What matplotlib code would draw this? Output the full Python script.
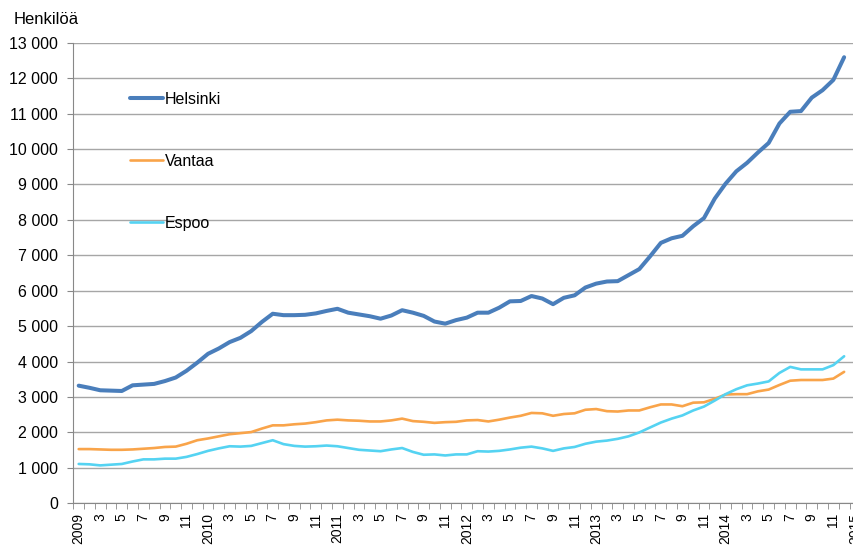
import numpy as np
import matplotlib
matplotlib.use("Agg")
import matplotlib.pyplot as plt
from matplotlib.ticker import FuncFormatter
from matplotlib.patches import Rectangle

plt.rcParams['font.family'] = ['Liberation Sans', 'DejaVu Sans']

# monthly data 1/2009 - 12/2014
helsinki = [3320, 3260, 3190, 3180, 3170, 3330, 3350, 3370, 3450, 3550, 3740, 3970,
            4220, 4370, 4550, 4670, 4860, 5120, 5350, 5310, 5310, 5320, 5360, 5430,
            5490, 5380, 5330, 5280, 5210, 5300, 5450, 5380, 5290, 5130, 5070, 5170,
            5240, 5380, 5380, 5520, 5700, 5710, 5850, 5780, 5620, 5800, 5870, 6090,
            6200, 6260, 6270, 6440, 6610, 6970, 7350, 7480, 7550, 7820, 8050, 8600,
            9020, 9370, 9610, 9900, 10170, 10720, 11050, 11070, 11450, 11660, 11950, 12590]
vantaa = [1530, 1530, 1520, 1510, 1510, 1520, 1540, 1560, 1590, 1600, 1680, 1780,
          1830, 1890, 1950, 1980, 2010, 2110, 2200, 2200, 2230, 2250, 2290, 2340,
          2360, 2340, 2330, 2310, 2310, 2340, 2390, 2320, 2300, 2270, 2290, 2300,
          2340, 2350, 2310, 2360, 2420, 2470, 2550, 2540, 2470, 2520, 2540, 2640,
          2660, 2600, 2590, 2620, 2620, 2710, 2790, 2790, 2740, 2840, 2850, 2950,
          3070, 3080, 3080, 3160, 3210, 3340, 3460, 3480, 3480, 3480, 3520, 3710]
espoo = [1110, 1100, 1070, 1090, 1110, 1180, 1240, 1240, 1260, 1260, 1310, 1390,
         1480, 1550, 1610, 1600, 1620, 1700, 1780, 1670, 1620, 1600, 1610, 1630,
         1610, 1560, 1510, 1490, 1470, 1520, 1560, 1450, 1370, 1380, 1350, 1380,
         1380, 1470, 1460, 1480, 1520, 1570, 1600, 1550, 1480, 1550, 1590, 1680,
         1740, 1770, 1820, 1890, 2000, 2140, 2280, 2390, 2480, 2620, 2730, 2900,
         3080, 3220, 3330, 3380, 3440, 3680, 3850, 3780, 3780, 3780, 3900, 4150]
years = [2009, 2010, 2011, 2012, 2013, 2014]

tick_labels = []
for y in years:
    tick_labels += [str(y), '3', '5', '7', '9', '11']
tick_labels.append('2015')

W, H = 854, 545
fs = 11.5
fig = plt.figure(figsize=(W / 100, H / 100), dpi=100)
ax = fig.add_axes([73.3 / W, 41.7 / H, 787 / W, 460.6 / H])

x = np.arange(len(helsinki))
ax.plot(x, helsinki, color='#4A7EBB', lw=2.9, label='Helsinki', solid_capstyle='round', zorder=3)
ax.plot(x, vantaa, color='#F9A44A', lw=1.9, label='Vantaa', solid_capstyle='round', zorder=3)
ax.plot(x, espoo, color='#55D3F2', lw=1.9, label='Espoo', solid_capstyle='round', zorder=3)

ax.set_xlim(-0.5, 72.5)
ax.set_ylim(0, 13000)
ax.set_yticks(np.arange(0, 13001, 1000))
ax.yaxis.set_major_formatter(FuncFormatter(lambda v, p: f'{int(v):,}'.replace(',', ' ')))
ax.yaxis.grid(True, color='#A6A6A6', lw=1)
ax.set_axisbelow(True)

ax.set_xticks(np.arange(0, 73, 2))
ax.set_xticklabels(tick_labels, rotation=90, va='top', ha='center')
ax.set_xticks(np.arange(-0.5, 73, 1), minor=True)
ax.tick_params(axis='x', which='major', length=0, pad=7, labelsize=10)
ax.tick_params(axis='x', which='minor', length=4, color='#888888')
ax.tick_params(axis='y', length=4, color='#888888', pad=7, labelsize=fs)

for s in ['top', 'right']:
    ax.spines[s].set_visible(False)
for s in ['left', 'bottom']:
    ax.spines[s].set_color('#888888')

fig.text(14 / W, 1 - 20 / H, 'Henkilöä', fontsize=12, va='center', ha='left')

# white legend area hiding the gridlines
fig.patches.append(Rectangle((120 / W, 1 - 240 / H), 111 / W, 175 / H,
                             transform=fig.transFigure, facecolor='white',
                             edgecolor='none', zorder=1))
ax.set_zorder(2)
ax.patch.set_alpha(0)

leg = ax.legend(loc='upper left', bbox_to_anchor=(120 / W, 1 - 82 / H),
                bbox_transform=fig.transFigure, frameon=False,
                fontsize=fs, handlelength=2.1, handletextpad=0.1,
                labelspacing=2.95, borderpad=0.6, borderaxespad=0)

fig.savefig('out.png', dpi=100)
